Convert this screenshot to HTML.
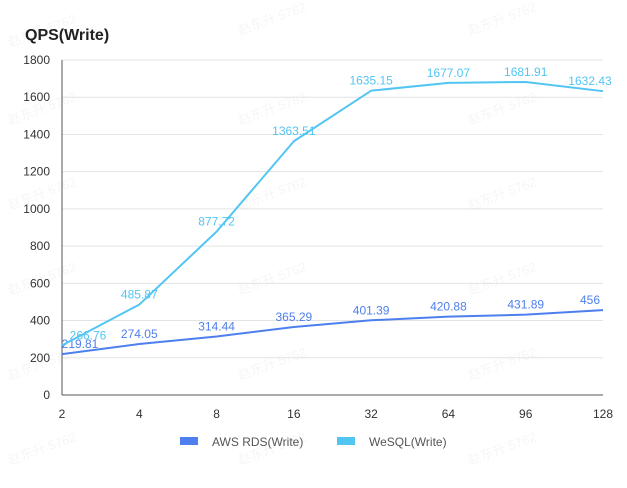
<!DOCTYPE html>
<html><head><meta charset="utf-8"><style>
body{margin:0;background:#fff;font-family:"Liberation Sans","Noto Sans CJK SC",sans-serif}
svg text{font-family:"Liberation Sans","Noto Sans CJK SC",sans-serif}
</style></head><body>
<svg id="c" width="627" height="483">
<text x="25" y="40" font-size="16" font-weight="bold" fill="#222">QPS(Write)</text>
<g id="g"></g>
</svg>
<script>
const categories=["2","4","8","16","32","64","96","128"];
const awsValues=[219.81,274.05,314.44,365.29,401.39,420.88,431.89,456];
const wesqlValues=[266.76,485.87,877.72,1363.51,1635.15,1677.07,1681.91,1632.43];
const yTicks=[0,200,400,600,800,1000,1200,1400,1600,1800];
const L=62,R=603,T=60,B=395;
const x=i=>L+i*(R-L)/(categories.length-1);
const y=v=>B-v/1800*(B-T);
const g=document.getElementById('g');const NS='http://www.w3.org/2000/svg';
function mk(t,a,p){const e=document.createElementNS(NS,t);for(const k in a)e.setAttribute(k,a[k]);(p||g).appendChild(e);return e;}
const wm=[[10,32],[240,20],[470,20],[10,110],[240,110],[470,110],[10,195],[240,195],[470,195],[10,280],[240,280],[470,280],[10,365],[240,365],[470,365],[10,450],[240,450],[470,450]];
wm.forEach(p=>{const t=mk('text',{x:p[0],y:p[1]+15,'font-size':13,fill:'#000','fill-opacity':0.04,transform:`rotate(-20 ${p[0]} ${p[1]+15})`});t.textContent='赵东升 5762';

});
yTicks.forEach(v=>{const l=mk('line',{x1:L,x2:R,y1:y(v),y2:y(v),stroke:v?'#e3e3e3':'#555','stroke-width':1});


const t=mk('text',{x:50,y:y(v)+4,'font-size':12,fill:'#333','text-anchor':'end'});t.textContent=v;

});
const ax=mk('line',{x1:L,x2:L,y1:T,y2:B,stroke:'#555'});


categories.forEach((c,i)=>{const t=mk('text',{x:x(i),y:418,'font-size':12,fill:'#333','text-anchor':'middle'});t.textContent=c;

});
function series(vals,color,name,firstShift){
const p=mk('polyline',{points:vals.map((v,i)=>x(i)+','+y(v)).join(' '),fill:'none',stroke:color,'stroke-width':2,'stroke-linejoin':'round'});


vals.forEach((v,i)=>{let xx=x(i);if(i===0)xx+=firstShift;xx=Math.min(xx,590);
const t=mk('text',{x:xx,y:y(v)-6,'font-size':12,fill:color,'text-anchor':'middle'});t.textContent=v;

});}
series(awsValues,'#4e7fef','aws-rds',18);
series(wesqlValues,'#52c5f2','wesql',26);
[[180,'#4e7fef','AWS RDS(Write)','legend-aws-rds'],[337,'#52c5f2','WeSQL(Write)','legend-wesql']].forEach(d=>{
const r=mk('rect',{x:d[0],y:437,width:18,height:8,fill:d[1]});


const t=mk('text',{x:d[0]+32,y:446,'font-size':12,fill:'#555'});t.textContent=d[2];

});
</script>
</body></html>
